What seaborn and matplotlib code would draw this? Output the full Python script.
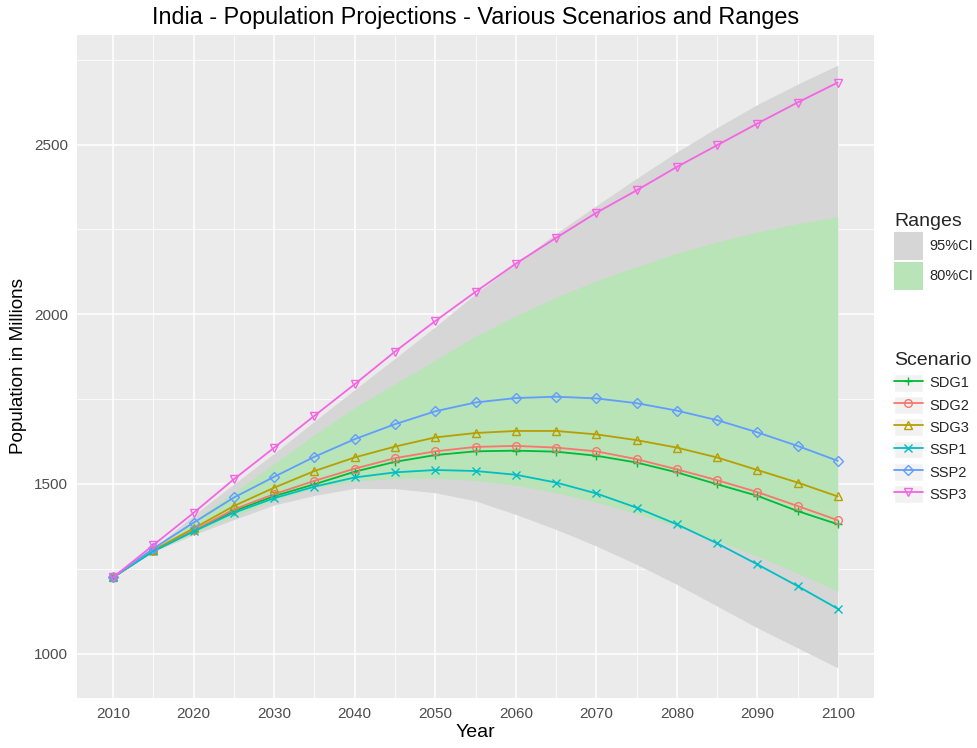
import numpy as np
import pandas as pd
import matplotlib
matplotlib.use('Agg')
import matplotlib.pyplot as plt
import seaborn as sns
from matplotlib.patches import Patch
from matplotlib.lines import Line2D
from matplotlib.ticker import MultipleLocator

# --- datos (millones) ---
years = list(range(2010, 2101, 5))

sdg1 = [1225, 1302, 1361, 1420, 1464, 1499, 1536, 1565, 1585, 1596,
        1598, 1595, 1583, 1563, 1534, 1499, 1465, 1420, 1381]
sdg2 = [1225, 1303, 1363, 1425, 1470, 1509, 1545, 1576, 1596, 1609,
        1612, 1607, 1596, 1573, 1543, 1511, 1476, 1435, 1393]
sdg3 = [1225, 1305, 1369, 1435, 1489, 1538, 1578, 1610, 1637, 1650,
        1656, 1656, 1646, 1629, 1607, 1578, 1541, 1504, 1463]
ssp1 = [1225, 1302, 1360, 1415, 1458, 1492, 1519, 1534, 1541, 1538,
        1527, 1504, 1472, 1430, 1381, 1325, 1263, 1199, 1132]
ssp2 = [1225, 1310, 1386, 1460, 1521, 1580, 1632, 1676, 1714, 1740,
        1753, 1757, 1752, 1738, 1716, 1688, 1652, 1612, 1568]
ssp3 = [1225, 1320, 1415, 1514, 1607, 1701, 1794, 1890, 1980, 2066,
        2149, 2225, 2299, 2365, 2434, 2498, 2562, 2624, 2683]

# rangos (empiezan en 2015)
band_years = years[1:]
ci95_low = [1300, 1350, 1395, 1438, 1466, 1487, 1486, 1474, 1450,
            1410, 1366, 1317, 1263, 1204, 1140, 1076, 1017, 958]
ci95_high = [1310, 1408, 1500, 1590, 1685, 1778, 1870, 1963, 2060,
             2150, 2238, 2320, 2400, 2478, 2550, 2618, 2678, 2734]
ci80_low = [1302, 1355, 1405, 1452, 1488, 1508, 1516, 1517, 1510,
            1496, 1474, 1446, 1413, 1375, 1333, 1287, 1237, 1184]
ci80_high = [1305, 1392, 1475, 1560, 1645, 1725, 1795, 1865, 1935,
             1995, 2050, 2098, 2140, 2180, 2213, 2242, 2267, 2287]

scenarios = ['SDG1', 'SDG2', 'SDG3', 'SSP1', 'SSP2', 'SSP3']
series = [sdg1, sdg2, sdg3, ssp1, ssp2, ssp3]
colores = {'SDG1': '#00BA38', 'SDG2': '#F8766D', 'SDG3': '#B79F00',
           'SSP1': '#00BFC4', 'SSP2': '#619CFF', 'SSP3': '#F564E3'}
marcadores = {'SDG1': '+', 'SDG2': 'o', 'SDG3': '^',
              'SSP1': 'x', 'SSP2': 'D', 'SSP3': 'v'}
gris95 = '#D6D6D6'
verde80 = '#B8E4B7'

df = pd.DataFrame({
    'Year': years * len(scenarios),
    'Population': sum(series, []),
    'Scenario': np.repeat(scenarios, len(years)),
})

sns.set_theme(style='darkgrid', rc={
    'axes.facecolor': '#EBEBEB',
    'grid.color': 'white',
    'axes.edgecolor': '#EBEBEB',
})
plt.rcParams['font.family'] = ['Liberation Sans', 'DejaVu Sans']

fig = plt.figure(figsize=(9.78, 7.48), dpi=100)
ax = fig.add_axes([77 / 978, 1 - 698 / 748, (874 - 77) / 978, (698 - 35) / 748])
ax.set_axisbelow(True)

# bandas de confianza
ax.fill_between(band_years, ci95_low, ci95_high, color=gris95, lw=0, zorder=1)
ax.fill_between(band_years, ci80_low, ci80_high, color=verde80, lw=0, zorder=1.1)

# lineas por escenario
for sc in scenarios:
    sub = df[df['Scenario'] == sc]
    c = colores[sc]
    sns.lineplot(data=sub, x='Year', y='Population', color=c,
                 marker=marcadores[sc], markersize=5.5, mfc='none', mec=c,
                 mew=1.0, linewidth=1.3, ax=ax, zorder=3)

ax.set_xlim(2005.5, 2104.5)
ax.set_ylim(869, 2823)
ax.set_xticks(range(2010, 2101, 10))
ax.set_yticks([1000, 1500, 2000, 2500])
ax.xaxis.set_minor_locator(MultipleLocator(5))
ax.yaxis.set_minor_locator(MultipleLocator(250))
ax.grid(which='major', color='white', lw=1.1)
ax.grid(which='minor', color='white', lw=0.55)
ax.tick_params(which='major', length=3.5, width=1, color='#333333',
               labelcolor='#4D4D4D', labelsize=11, pad=3)
ax.tick_params(which='minor', length=0)
for s in ax.spines.values():
    s.set_visible(False)

ax.set_title('India - Population Projections - Various Scenarios and Ranges',
             fontsize=16.8, pad=8, color='black')
ax.set_xlabel('Year', fontsize=14, color='black', labelpad=2)
ax.set_ylabel('Population in Millions', fontsize=13.6, color='black', labelpad=5)

# leyendas
h_rangos = [Patch(facecolor=gris95, edgecolor='none'),
            Patch(facecolor=verde80, edgecolor='none')]
leg1 = fig.legend(h_rangos, ['95%CI', '80%CI'], title='Ranges',
                  loc='upper left', bbox_to_anchor=(884 / 978, 1 - 203 / 748),
                  frameon=False, fontsize=10.5, title_fontsize=14,
                  handlelength=1.95, handleheight=2.6, labelspacing=0.12,
                  handletextpad=0.45, borderpad=0.2, alignment='left')

fondo_key = '#F2F2F2'
h_esc = [(Patch(facecolor=fondo_key, edgecolor='white'),
          Line2D([0], [0], color=colores[s], marker=marcadores[s], ms=5.5,
                 mfc='none', mec=colores[s], mew=1.0, lw=1.3))
         for s in scenarios]
leg2 = fig.legend(h_esc, scenarios, title='Scenario',
                  loc='upper left', bbox_to_anchor=(884 / 978, 1 - 342 / 748),
                  frameon=False, fontsize=10.5, title_fontsize=14,
                  handlelength=1.95, handleheight=1.5, labelspacing=0.31,
                  handletextpad=0.45, borderpad=0.2, alignment='left')

fig.savefig('out.png', dpi=100)
